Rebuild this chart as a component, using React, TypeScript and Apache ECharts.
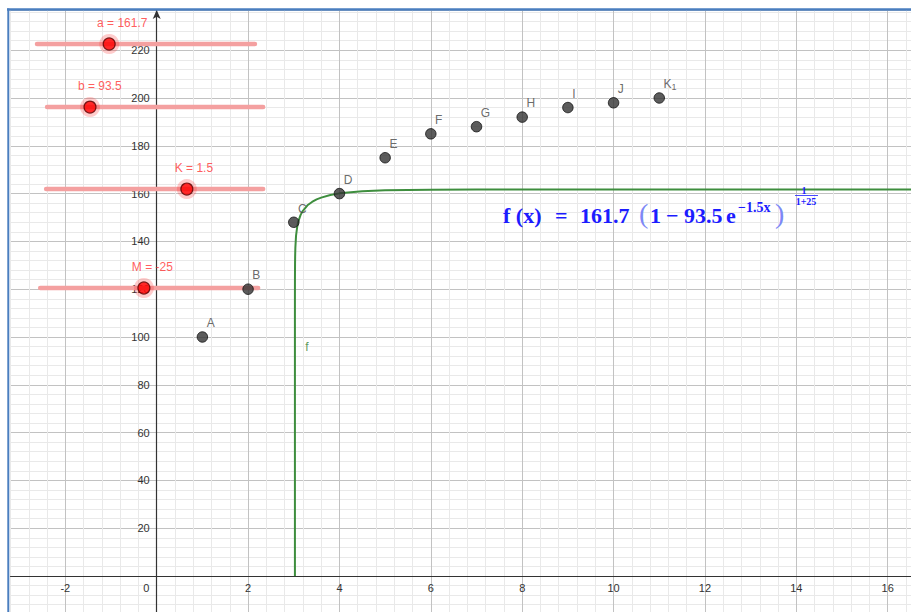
import React, { useEffect, useRef } from "react";
import * as echarts from "echarts";

// ---- data ----
const pointNames = ["A", "B", "C", "D", "E", "F", "G", "H", "I", "J", "K1"];
const pointX = [1, 2, 3, 4, 5, 6, 7, 8, 9, 10, 11];
const pointY = [100, 120, 148, 160, 175, 185, 188, 192, 196, 198, 200];

const curveX = [3.0253, 3.02531, 3.0254, 3.026, 3.028, 3.03, 3.035, 3.05, 3.075, 3.1, 3.15, 3.2, 3.3, 3.4, 3.5, 3.6, 3.8, 4, 4.5, 5, 6, 7, 10, 16.6];
const curveY = [0, 105.5, 115.2, 124.2, 130.8, 133.6, 137.4, 142.4, 146.1, 148.4, 151.1, 152.8, 155.1, 156.5, 157.6, 158.3, 159.4, 160.1, 161.0, 161.4, 161.6, 161.7, 161.7, 161.7];
const curveLabelPos = [3.29, 96];

const sliderLabels = ["a = 161.7", "b = 93.5", "K = 1.5", "M = -25"];
const sliderY = [222.6, 196.2, 161.9, 120.5];
const sliderStart = [-2.62, -2.4, -2.42, -2.55];
const sliderEnd = [2.15, 2.33, 2.33, 2.22];
const sliderHandle = [-1.04, -1.46, 0.66, -0.28];

const xMin = -3.2;
const xMax = 16.51;
const yMin = -16;
const yMax = 236.82;

const MINOR = "#e9e9e9";
const MAJOR = "#c2c2c2";
const BLUE = "#1c1cff";
const SERIF = '"Liberation Serif", "Times New Roman", serif';
const SANS = '"Liberation Sans", Arial, sans-serif';

const W = 911;
const H = 612;
const GRID_LEFT = 10.5;
const GRID_RIGHT = 0;
const GRID_TOP = 10;
const GRID_BOTTOM = -2.24;

function isMult(v: number, m: number) {
  return Math.abs(v / m - Math.round(v / m)) < 1e-6;
}

export default function App() {
  const ref = useRef<HTMLDivElement>(null);
  useEffect(() => {
    if (!ref.current) return;
    const chart = echarts.init(ref.current, undefined, { renderer: "svg" });

    const plotW = W - GRID_LEFT - GRID_RIGHT;
    const plotH = H - GRID_TOP - GRID_BOTTOM;
    // place the axes where the other axis is zero
    const yAxisOffset = -((0 - xMin) / (xMax - xMin)) * plotW;
    const xAxisOffset = -((0 - yMin) / (yMax - yMin)) * plotH;

    const sliderSeries = sliderLabels.map((l, i) => ({
      type: "line",
      name: "slider-" + i,
      data: [
        [sliderStart[i], sliderY[i]],
        [sliderEnd[i], sliderY[i]],
      ],
      showSymbol: false,
      symbol: "none",
      silent: true,
      lineStyle: { color: "#f4a0a0", width: 4.5, cap: "round" },
      z: 3,
    }));

    const option: any = {
      animation: false,
      backgroundColor: "#ffffff",
      grid: {
        left: GRID_LEFT,
        right: GRID_RIGHT,
        top: GRID_TOP,
        bottom: GRID_BOTTOM,
        containLabel: false,
        outerBoundsMode: "none",
      },
      xAxis: {
        type: "value",
        position: "bottom",
        offset: xAxisOffset,
        min: xMin,
        max: xMax,
        interval: 0.4,
        axisLine: {
          onZero: false,
          lineStyle: { color: "#333", width: 1.2 },
        },
        axisTick: { show: false },
        axisLabel: {
          color: "#333",
          fontSize: 11,
          fontFamily: SANS,
          margin: 6,
          showMinLabel: true,
          showMaxLabel: true,
          formatter: (v: number) => {
            if (!isMult(v, 2)) return "";
            const r = Math.round(v);
            if (r === 0) return "{o|0}";
            return String(r);
          },
          rich: {
            o: { color: "#333", fontSize: 11, fontFamily: SANS, padding: [0, 21, 0, 0] },
          },
        },
        splitLine: {
          show: true,
          lineStyle: { color: [MINOR, MINOR, MINOR, MAJOR, MINOR], width: 1 },
        },
      },
      yAxis: {
        type: "value",
        position: "left",
        offset: yAxisOffset,
        min: yMin,
        max: yMax,
        interval: 4,
        axisLine: {
          onZero: false,
          symbol: ["none", "arrow"],
          symbolSize: [6, 9],
          lineStyle: { color: "#333", width: 1.2 },
        },
        axisTick: { show: false },
        axisLabel: {
          color: "#333",
          fontSize: 11,
          fontFamily: SANS,
          margin: 7,
          padding: [3, 0, 0, 0],
          formatter: (v: number) => {
            if (!isMult(v, 20)) return "";
            const r = Math.round(v);
            if (r === 0) return "";
            return String(r);
          },
        },
        splitLine: {
          show: true,
          lineStyle: { color: [MINOR, MINOR, MINOR, MINOR, MAJOR], width: 1 },
        },
      },
      series: [
        {
          type: "line",
          name: "f",
          data: curveX.map((x, i) => [x, curveY[i]]),
          showSymbol: false,
          symbol: "none",
          silent: true,
          lineStyle: { color: "#3e8e3e", width: 2 },
          z: 2,
        },
        {
          type: "scatter",
          name: "f-label",
          data: [{ value: curveLabelPos, name: "f" }],
          symbolSize: 0,
          silent: true,
          label: {
            show: true,
            formatter: "{b}",
            position: "inside",
            color: "#2f7f2f",
            fontSize: 12,
            fontFamily: SANS,
          },
          z: 2,
        },
        ...sliderSeries,
        {
          type: "scatter",
          name: "halo",
          data: sliderHandle.map((x, i) => [x, sliderY[i]]),
          symbolSize: 20,
          silent: true,
          itemStyle: { color: "rgba(255,40,40,0.3)" },
          z: 4,
        },
        {
          type: "scatter",
          name: "handles",
          data: sliderHandle.map((x, i) => ({ value: [x, sliderY[i]], name: sliderLabels[i] })),
          symbolSize: 12,
          silent: true,
          itemStyle: { color: "#ff0000", borderColor: "#5a0000", borderWidth: 1.2 },
          label: {
            show: true,
            formatter: "{b}",
            position: [-5.5, -14.5],
            align: "left",
            verticalAlign: "middle",
            color: "#ff3333",
            fontSize: 12,
            fontFamily: SANS,
          },
          z: 5,
        },
        {
          type: "scatter",
          name: "points",
          data: pointX.map((x, i) => {
            const item: any = { value: [x, pointY[i]], name: pointNames[i] };
            if (pointNames[i] === "K1") {
              item.label = {
                formatter: "K{s|1}",
                rich: {
                  s: { color: "#444444", fontSize: 9, fontFamily: SANS, padding: [6, 0, 0, 0] },
                },
              };
            }
            return item;
          }),
          symbolSize: 10.5,
          silent: true,
          itemStyle: { color: "#333333", borderColor: "#111111", borderWidth: 1 },
          label: {
            show: true,
            formatter: "{b}",
            position: [10, -8],
            align: "left",
            verticalAlign: "middle",
            color: "#444444",
            fontSize: 12,
            fontFamily: SANS,
          },
          z: 6,
        },
      ],
      graphic: [
        // frame
        { type: "line", silent: true, z: 100, shape: { x1: 7, y1: 9.5, x2: 911, y2: 9.5 }, style: { stroke: "#4a7ebf", lineWidth: 2.5 } },
        { type: "line", silent: true, z: 100, shape: { x1: 8.3, y1: 8.5, x2: 8.3, y2: 612 }, style: { stroke: "#4a7ebf", lineWidth: 2 } },
        // formula
        { type: "text", silent: true, z: 50, x: 503, y: 215, style: { text: "f (x)", fill: BLUE, font: `bold 22px ${SERIF}`, verticalAlign: "middle" } },
        { type: "text", silent: true, z: 50, x: 555, y: 215, style: { text: "=", fill: BLUE, font: `bold 22px ${SERIF}`, verticalAlign: "middle" } },
        { type: "text", silent: true, z: 50, x: 580, y: 215, style: { text: "161.7", fill: BLUE, font: `bold 22px ${SERIF}`, verticalAlign: "middle" } },
        { type: "text", silent: true, z: 50, x: 639, y: 213, style: { text: "(", fill: "#7d88f6", font: `28px ${SERIF}`, verticalAlign: "middle" } },
        { type: "text", silent: true, z: 50, x: 650, y: 215, style: { text: "1", fill: BLUE, font: `bold 22px ${SERIF}`, verticalAlign: "middle" } },
        { type: "text", silent: true, z: 50, x: 666, y: 215, style: { text: "\u2212", fill: BLUE, font: `bold 22px ${SERIF}`, verticalAlign: "middle" } },
        { type: "text", silent: true, z: 50, x: 684, y: 215, style: { text: "93.5", fill: BLUE, font: `bold 22px ${SERIF}`, verticalAlign: "middle" } },
        { type: "text", silent: true, z: 50, x: 726, y: 215, style: { text: "e", fill: BLUE, font: `bold 22px ${SERIF}`, verticalAlign: "middle" } },
        { type: "text", silent: true, z: 50, x: 738, y: 207, style: { text: "\u22121.5x", fill: BLUE, font: `bold 14px ${SERIF}`, verticalAlign: "middle" } },
        { type: "text", silent: true, z: 50, x: 775, y: 213, style: { text: ")", fill: "#7d88f6", font: `28px ${SERIF}`, verticalAlign: "middle" } },
        { type: "text", silent: true, z: 50, x: 804, y: 190, style: { text: "1", fill: BLUE, font: `bold 10px ${SERIF}`, align: "center", verticalAlign: "middle" } },
        { type: "line", silent: true, z: 50, shape: { x1: 795, y1: 195.5, x2: 818, y2: 195.5 }, style: { stroke: BLUE, lineWidth: 0.8 } },
        { type: "text", silent: true, z: 50, x: 806, y: 201, style: { text: "1+25", fill: BLUE, font: `bold 10px ${SERIF}`, align: "center", verticalAlign: "middle" } },
      ],
    };

    chart.setOption(option);
    return () => chart.dispose();
  }, []);

  return (
    <div
      ref={ref}
      style={{ position: "absolute", left: 0, top: 0, width: W, height: H, background: "#fff" }}
    />
  );
}
